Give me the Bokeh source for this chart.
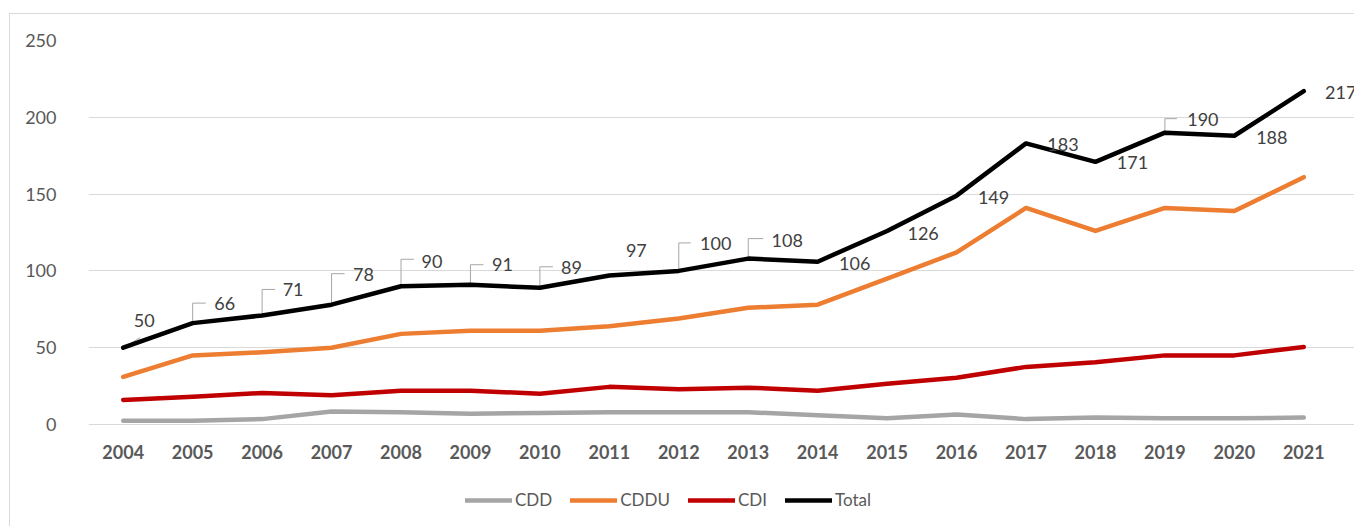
from bokeh.plotting import figure
from bokeh.models import ColumnDataSource, Range1d, FixedTicker, Legend, LegendItem
from bokeh.core.properties import value
from bokeh.embed import file_html
from bokeh.resources import INLINE

years = list(range(2004, 2022))
year_labels = [str(y) for y in years]
cdd = [2.5, 2.5, 3.5, 8.5, 8, 7, 7.5, 8, 8, 8, 6, 4, 6.5, 3.5, 4.5, 4, 4, 4.5]
cddu = [31, 45, 47, 50, 59, 61, 61, 64, 69, 76, 78, 95, 112, 141, 126, 141, 139, 161]
cdi = [16, 18, 20.5, 19, 22, 22, 20, 24.5, 23, 24, 22, 26.5, 30.5, 37.5, 40.5, 45, 45, 50.5]
total = [50, 66, 71, 78, 90, 91, 89, 97, 100, 108, 106, 126, 149, 183, 171, 190, 188, 217]
y_ticks = [0, 50, 100, 150, 200, 250]

# label placement (screen pixels relative to the point; up positive)
label_dx = [21, 32, 31, 32, 31, 32, 31.5, 27, 37, 39, 37, 36, 37, 37, 37, 38, 37.5, 37]
label_up = [27, 20, 26, 30, 25, 20, 20, 25, 27, 18, -2, -2.5, -2, -1, -1, 13, -2, -1]
leader_kind = ["diag", "elbow", "elbow", "elbow", "elbow", "elbow", "elbow", "",
               "elbow", "elbow", "", "", "", "", "", "elbow", "", ""]
leader_up = [10, 20, 26, 31, 27, 20, 21, 0, 28, 20, 0, 0, 0, 0, 0, 14, 0, 0]
leader_dx = [17, 13, 13, 13, 13, 13, 13, 0, 12, 15, 0, 0, 0, 0, 0, 12, 0, 0]

# geometry: categories span 1250 px, values 0..250 span 384 px
PX_X = 1250 / 18.0
PX_Y = 384 / 250.0
FW, FH = 1266, 486
ML, MT = 78, 26
x0 = 2003.5
x1 = x0 + FW / PX_X
y1 = 250
y0 = y1 - FH / PX_Y

p = figure(frame_width=FW, frame_height=FH, output_backend="svg", toolbar_location=None,
           x_range=Range1d(x0, x1), y_range=Range1d(y0, y1),
           min_border_left=ML, min_border_right=0, min_border_top=MT, min_border_bottom=0,
           styles={"margin-top": "13px", "margin-left": "9px",
                   "border-left": "1px solid #d9d9d9",
                   "border-top": "1px solid #d9d9d9"})
p.outline_line_color = None
p.xgrid.grid_line_color = None
p.xaxis.visible = False
p.ygrid.grid_line_color = "#d9d9d9"
p.ygrid.grid_line_width = 1
p.ygrid.bounds = (2003.5, 2021.5)
p.yaxis.ticker = FixedTicker(ticks=y_ticks)
p.ygrid.ticker = FixedTicker(ticks=y_ticks)
p.yaxis.major_tick_line_color = None
p.yaxis.minor_tick_line_color = None
p.yaxis.major_label_text_font = "Lato"
p.yaxis.major_label_text_font_size = "18px"
p.yaxis.major_label_text_color = "#595959"
p.yaxis.axis_line_color = None
p.yaxis.major_label_standoff = 26

# category (year) labels under the zero line
p.text(x=years, y=[0] * len(years), text=year_labels, y_offset=27,
       text_align="center", text_baseline="middle", text_font=value("Lato"),
       text_font_size="18px", text_font_style="bold", text_color="#595959")

# leader lines
lxs, lys = [], []
for i, k in enumerate(leader_kind):
    x, y = years[i], total[i]
    if k == "diag":
        lxs.append([x, x + leader_dx[i] / PX_X])
        lys.append([y, y + leader_up[i] / PX_Y])
    elif k == "elbow":
        yt = y + leader_up[i] / PX_Y
        lxs.append([x, x, x + leader_dx[i] / PX_X])
        lys.append([y, yt, yt])
p.multi_line(lxs, lys, line_color="#a6a6a6", line_width=1)

series = [("CDD", cdd, "#a5a5a5"), ("CDDU", cddu, "#ed7d31"),
          ("CDI", cdi, "#c00000"), ("Total", total, "#000000")]
items = []
for name, vals, col in series:
    r = p.line(years, vals, line_color=col, line_width=4.5,
               line_join="round", line_cap="round")
    items.append(LegendItem(label=name, renderers=[r]))

src = ColumnDataSource(dict(x=years, y=total, t=[str(v) for v in total],
                            xo=label_dx, yo=[-u for u in label_up]))
p.text(x="x", y="y", text="t", source=src, x_offset="xo", y_offset="yo",
       text_align="center", text_baseline="middle", text_font=value("Lato"),
       text_font_size="18px", text_color="#404040")

legend = Legend(items=items, orientation="horizontal", location=(377, 16),
                label_text_font="Lato", label_text_font_size="17px",
                label_text_color="#595959", glyph_width=47, glyph_height=20,
                label_standoff=3, spacing=18, border_line_color=None,
                background_fill_alpha=0, padding=6, margin=0)
p.add_layout(legend, "center")

open("out.html", "w").write(file_html(p, INLINE))
